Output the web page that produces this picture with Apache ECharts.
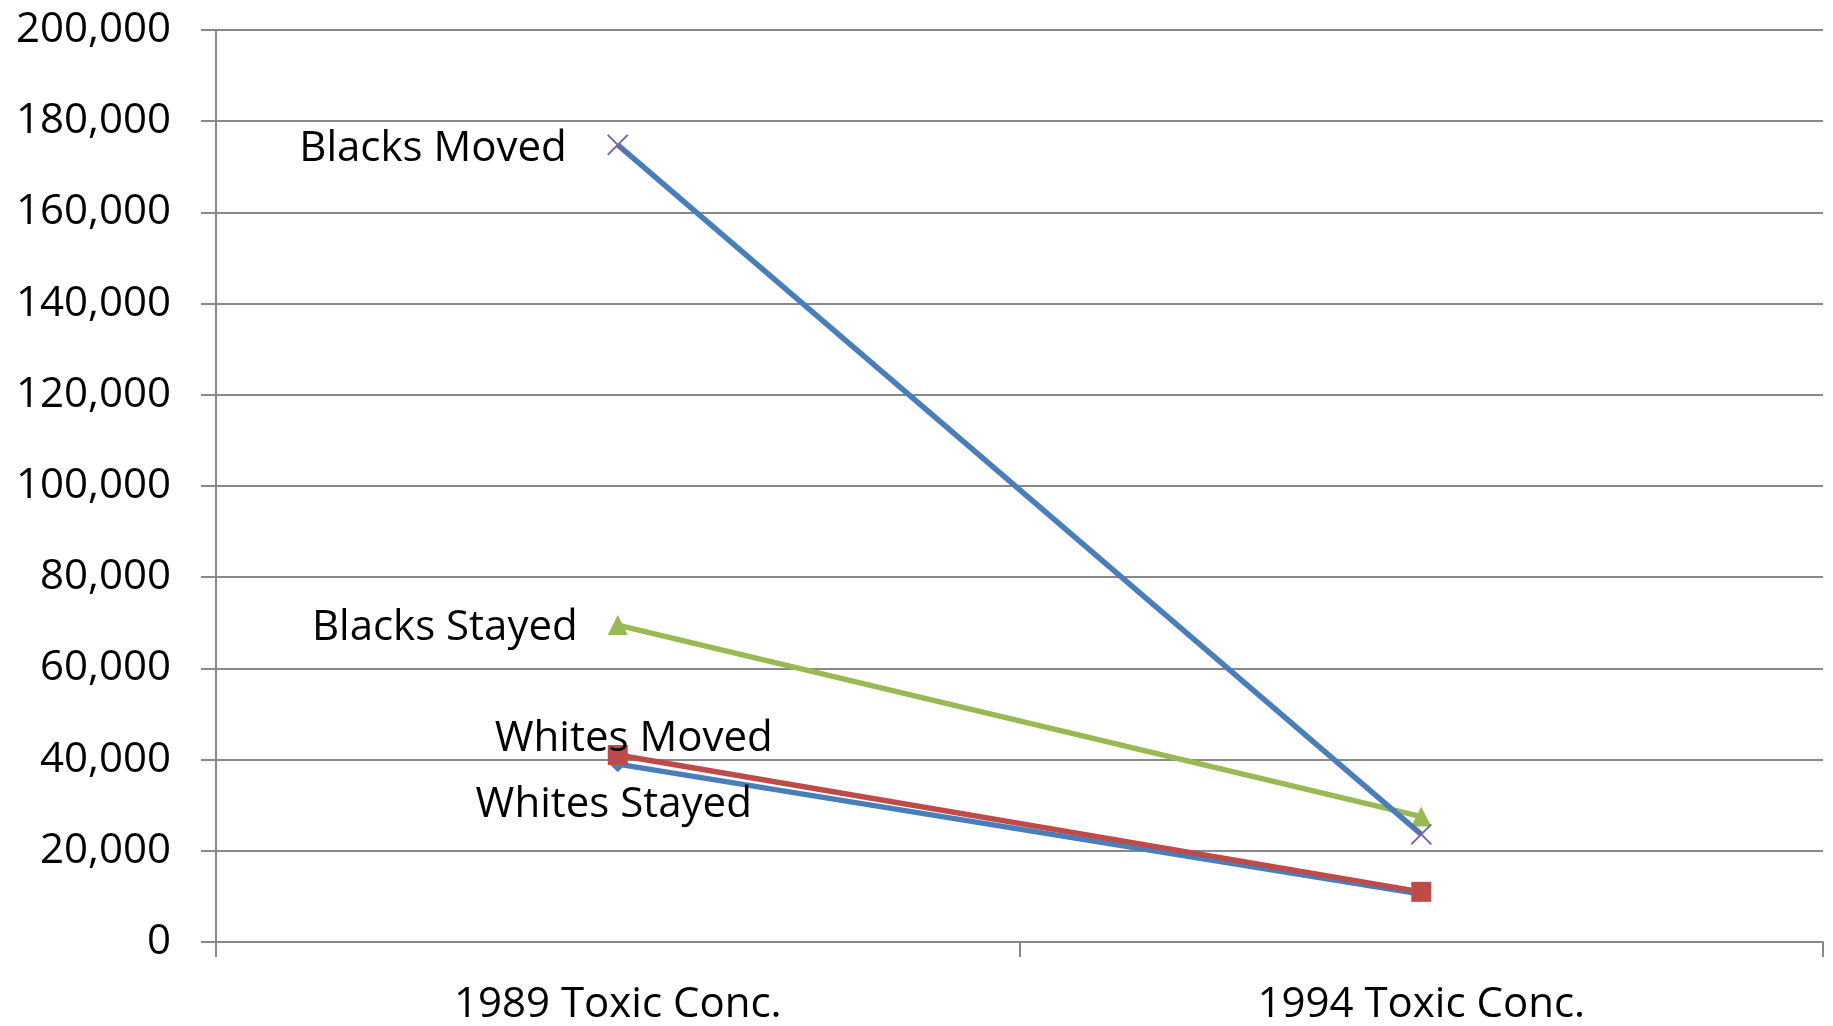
<!DOCTYPE html>
<html><head><meta charset="utf-8">
<script src="https://cdn.jsdelivr.net/npm/echarts@6/dist/echarts.min.js"></script>
<style>html,body{margin:0;padding:0;background:#fff}#c{width:1833px;height:1026px}</style>
</head><body><div id="c"></div>
<script>
const categories = ['1989 Toxic Conc.', '1994 Toxic Conc.'];
const whitesStayed = [39000, 10500];
const whitesMoved = [41000, 11000];
const blacksStayed = [69500, 27500];
const blacksMoved = [174800, 23600];
const seriesNames = ['Whites Stayed', 'Whites Moved', 'Blacks Stayed', 'Blacks Moved'];

const FONT = '"Open Sans", sans-serif';
const chart = echarts.init(document.getElementById('c'), null, {renderer: 'canvas'});

function withLabel(arr, labelCfg) {
  return arr.map((v, i) => i === 0 ? {value: v, label: labelCfg} : {value: v, label: {show: false}});
}
const lblBase = {show: true, color: '#000', fontFamily: FONT, fontSize: 42, formatter: p => p.seriesName};

chart.setOption({
  animation: false,
  grid: {left: 216, right: 10, top: 30, bottom: 83},
  xAxis: {
    type: 'category', data: categories, boundaryGap: true,
    axisLine: {lineStyle: {color: '#888', width: 2}},
    axisTick: {show: true, length: 15, lineStyle: {color: '#888', width: 2}},
    axisLabel: {color: '#000', fontFamily: FONT, fontSize: 42, margin: 42}
  },
  yAxis: {
    type: 'value', min: 0, max: 200000, interval: 20000,
    axisLine: {show: true, lineStyle: {color: '#888', width: 2}},
    axisTick: {show: true, length: 15, lineStyle: {color: '#888', width: 2}},
    splitLine: {lineStyle: {color: '#888', width: 2}},
    axisLabel: {color: '#000', fontFamily: FONT, fontSize: 42, margin: 45,
      formatter: v => v.toLocaleString('en-US')}
  },
  series: [
    {name: seriesNames[0], type: 'line', z: 2,
      data: withLabel(whitesStayed, Object.assign({}, lblBase, {position: 'bottom', distance: 8, offset: [-4, 4]})),
      symbol: 'diamond', symbolSize: 16,
      lineStyle: {color: '#4A7EBB', width: 5.5}, itemStyle: {color: '#4A7EBB'}},
    {name: seriesNames[1], type: 'line', z: 3,
      data: withLabel(whitesMoved, Object.assign({}, lblBase, {position: 'top', distance: 0, offset: [16, 15]})),
      symbol: 'rect', symbolSize: 20,
      lineStyle: {color: '#BE4B48', width: 5.5}, itemStyle: {color: '#BE4B48'}},
    {name: seriesNames[2], type: 'line', z: 4,
      data: withLabel(blacksStayed, Object.assign({}, lblBase, {position: 'left', distance: 30, offset: [0, 3]})),
      symbol: 'triangle', symbolSize: 20,
      lineStyle: {color: '#98B954', width: 5.5}, itemStyle: {color: '#98B954'}},
    {name: seriesNames[3], type: 'line', z: 5,
      data: withLabel(blacksMoved, Object.assign({}, lblBase, {position: 'left', distance: 40, offset: [0, 4]})),
      symbol: 'path://M0,0L10,10M10,0L0,10', symbolSize: 20,
      lineStyle: {color: '#4A7EBB', width: 5.5},
      itemStyle: {color: 'rgba(0,0,0,0)', borderColor: '#7D60A0', borderWidth: 2}}
  ]
});
</script></body></html>
